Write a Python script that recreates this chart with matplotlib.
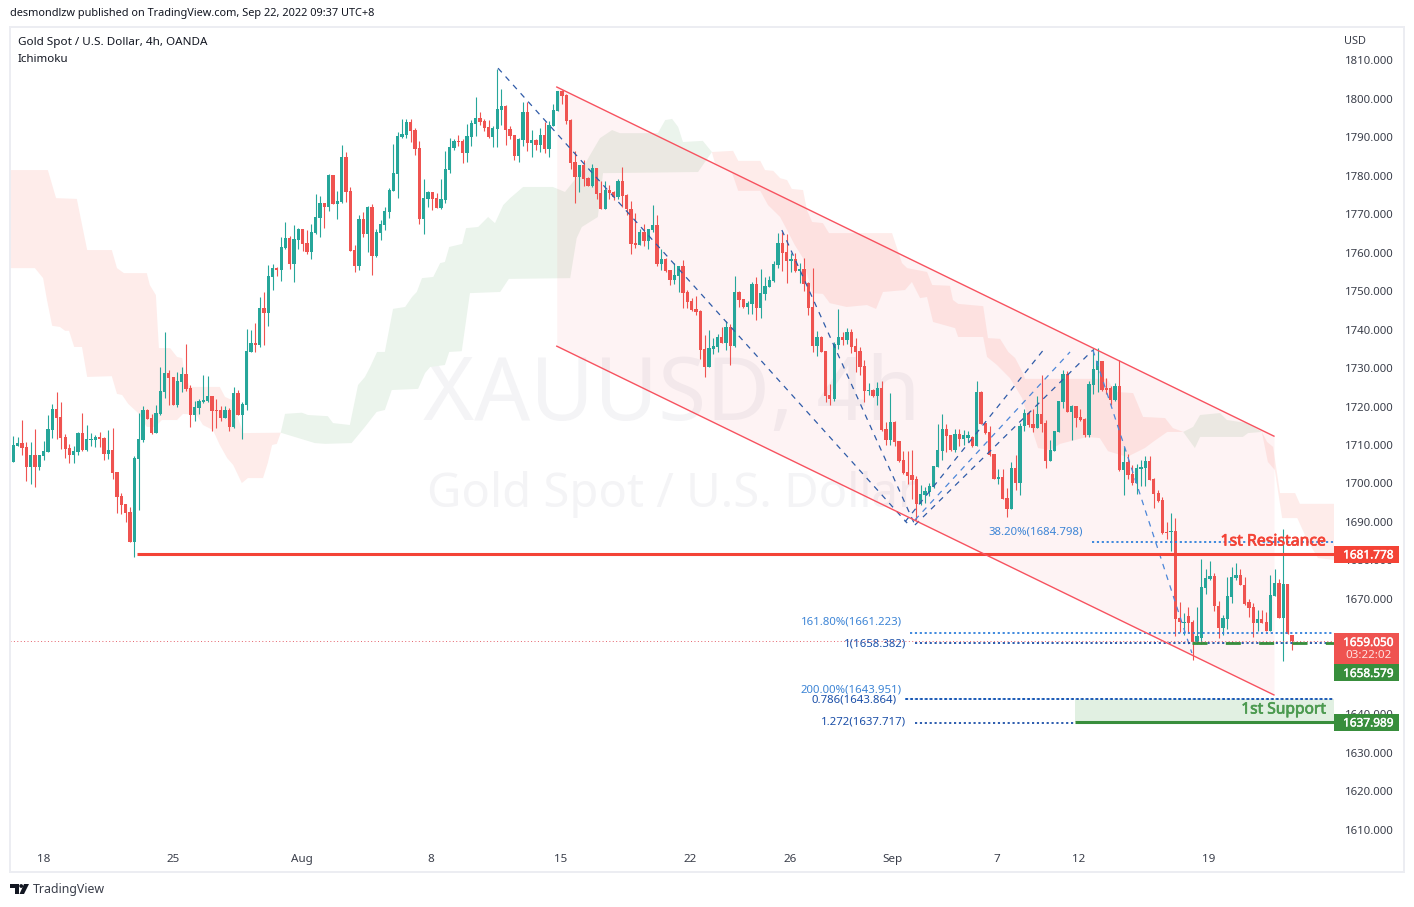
"""XAUUSD 4h candles with Ichimoku cloud, falling channel and fib levels."""
import matplotlib

matplotlib.use("Agg")
import matplotlib.patheffects as pe
import matplotlib.pyplot as plt
import numpy as np
from matplotlib.patches import Circle, Polygon, Rectangle

plt.rcParams["font.family"] = "Noto Sans"

opens = [
    1705.6, 1709.7, 1710.5, 1709.5, 1704.3, 1707.4, 1704.3, 1707.1, 1708.2, 1713.9,
    1719.4, 1717.3, 1712.1, 1709.2, 1707.4, 1708.2, 1713.1, 1708.7, 1711.3, 1711.3,
    1712.1, 1711.8, 1707.6, 1708.7, 1703.0, 1696.7, 1694.6, 1692.6, 1684.8, 1706.3,
    1711.3, 1719.1, 1717.0, 1713.1, 1718.0, 1723.8, 1728.7, 1727.7, 1720.4, 1726.4,
    1728.5, 1724.8, 1717.8, 1719.6, 1721.2, 1721.4, 1722.7, 1719.1, 1719.1, 1717.0,
    1719.1, 1714.7, 1723.5, 1717.8, 1720.4, 1734.2, 1736.5, 1736.0, 1745.6, 1744.3,
    1753.7, 1756.0, 1755.5, 1761.2, 1763.8, 1757.1, 1763.3, 1766.2, 1762.5, 1760.2,
    1765.1, 1769.0, 1772.9, 1771.9, 1780.2, 1772.7, 1773.2, 1784.9, 1776.0, 1760.7,
    1756.5, 1768.8, 1764.9, 1771.9, 1759.2, 1765.1, 1767.2, 1770.6, 1776.0, 1780.5,
    1790.1, 1790.6, 1794.0, 1791.9, 1787.2, 1768.8, 1774.0, 1775.8, 1774.2, 1771.6,
    1773.7, 1781.5, 1787.2, 1789.1, 1789.1, 1785.9, 1790.1, 1793.5, 1795.0, 1794.3,
    1792.7, 1790.1, 1792.2, 1797.1, 1798.2, 1792.2, 1790.6, 1785.2, 1789.3, 1796.6,
    1788.5, 1789.3, 1788.0, 1790.6, 1787.0, 1793.0, 1796.9, 1802.1, 1801.0, 1794.5,
    1783.6, 1779.7, 1782.8, 1779.5, 1777.4, 1782.0, 1775.5, 1771.4, 1776.3, 1775.8,
    1774.5, 1778.7, 1775.0, 1771.4, 1762.5, 1762.0, 1765.4, 1763.1, 1765.9, 1767.2,
    1757.1, 1758.4, 1755.5, 1752.9, 1754.0, 1756.6, 1749.8, 1747.4, 1745.4, 1744.8,
    1735.0, 1730.3, 1735.0, 1735.5, 1738.1, 1736.5, 1740.7, 1735.7, 1749.8, 1747.9,
    1745.9, 1746.7, 1751.9, 1745.6, 1749.3, 1751.1, 1752.6, 1756.8, 1762.5, 1760.2,
    1757.9, 1758.4, 1755.2, 1755.8, 1752.1, 1745.9, 1735.7, 1738.1, 1734.4, 1723.0,
    1722.0, 1736.0, 1738.1, 1737.3, 1739.4, 1735.7, 1734.4, 1730.5, 1724.0, 1724.3,
    1722.7, 1724.8, 1714.2, 1711.3, 1716.0, 1711.0, 1706.1, 1703.0, 1702.2, 1701.1,
    1694.7, 1697.0, 1697.8, 1699.1, 1704.3, 1708.4, 1714.2, 1712.6, 1708.7, 1712.9,
    1711.6, 1711.8, 1712.1, 1709.7, 1723.8, 1715.7, 1713.4, 1707.7, 1701.2, 1701.7,
    1696.2, 1693.3, 1704.0, 1700.1, 1714.9, 1718.3, 1715.5, 1714.4, 1718.1, 1715.7,
    1705.8, 1708.4, 1713.4, 1721.2, 1728.5, 1718.6, 1720.1, 1717.3, 1716.8, 1712.6,
    1725.6, 1729.5, 1731.8, 1724.8, 1724.8, 1721.7, 1725.3, 1703.5, 1705.6, 1702.5,
    1700.1, 1703.8, 1704.0, 1705.8, 1701.2, 1697.5, 1695.7, 1687.4, 1687.4, 1687.6,
    1665.0, 1663.7, 1665.5, 1664.0, 1658.8, 1659.8, 1672.8, 1675.1, 1675.9, 1668.1,
    1662.4, 1664.7, 1670.5, 1675.4, 1676.2, 1673.6, 1669.2, 1667.9, 1663.7, 1664.7,
    1664.0, 1661.6, 1670.7, 1674.1, 1665.0, 1673.8, 1660.6,
]
closes = [
    1710.0, 1710.5, 1709.2, 1704.3, 1707.4, 1704.3, 1707.4, 1708.4, 1714.1, 1719.4,
    1717.0, 1711.8, 1708.9, 1707.4, 1708.4, 1713.1, 1708.7, 1711.5, 1711.5, 1712.1,
    1711.5, 1707.6, 1708.7, 1702.7, 1696.5, 1694.4, 1692.3, 1684.8, 1706.6, 1711.5,
    1719.1, 1716.7, 1713.1, 1718.3, 1724.0, 1728.7, 1727.4, 1720.4, 1726.6, 1728.5,
    1724.6, 1717.8, 1719.9, 1721.4, 1721.7, 1722.7, 1718.8, 1718.8, 1717.0, 1719.1,
    1714.7, 1723.5, 1717.8, 1720.6, 1734.4, 1736.5, 1736.0, 1745.6, 1744.3, 1753.9,
    1756.0, 1755.5, 1761.5, 1763.8, 1757.1, 1763.6, 1766.2, 1762.3, 1760.2, 1765.4,
    1769.3, 1772.9, 1771.9, 1780.2, 1772.7, 1773.5, 1784.9, 1775.8, 1760.5, 1756.5,
    1768.8, 1764.9, 1771.9, 1759.2, 1765.4, 1767.5, 1770.9, 1776.3, 1780.7, 1790.4,
    1790.9, 1794.0, 1791.7, 1787.0, 1768.8, 1774.2, 1775.8, 1774.0, 1771.6, 1774.0,
    1781.8, 1787.5, 1789.1, 1788.8, 1785.9, 1790.4, 1793.7, 1795.0, 1794.0, 1792.4,
    1790.1, 1792.4, 1797.4, 1798.2, 1791.9, 1790.4, 1785.2, 1789.6, 1796.6, 1788.5,
    1789.3, 1788.0, 1790.6, 1787.0, 1793.2, 1797.1, 1802.1, 1800.8, 1794.3, 1783.3,
    1779.7, 1782.8, 1779.2, 1777.4, 1782.0, 1775.3, 1771.4, 1776.3, 1775.5, 1774.5,
    1778.7, 1774.8, 1771.4, 1762.3, 1762.0, 1765.4, 1763.1, 1766.2, 1767.2, 1757.1,
    1758.4, 1755.2, 1752.9, 1754.2, 1756.6, 1749.5, 1747.2, 1745.1, 1744.6, 1734.7,
    1730.3, 1735.2, 1735.7, 1738.1, 1736.5, 1740.7, 1735.7, 1749.8, 1747.7, 1745.9,
    1746.9, 1751.9, 1745.6, 1749.5, 1751.3, 1752.9, 1757.1, 1762.5, 1759.9, 1757.9,
    1758.4, 1755.2, 1755.8, 1751.9, 1745.6, 1735.7, 1738.1, 1734.2, 1722.7, 1722.0,
    1736.3, 1738.1, 1737.3, 1739.4, 1735.5, 1734.2, 1730.3, 1724.0, 1724.3, 1722.7,
    1724.8, 1713.9, 1711.3, 1716.0, 1710.8, 1705.8, 1702.7, 1701.9, 1700.9, 1694.7,
    1697.3, 1698.0, 1699.3, 1704.5, 1708.7, 1714.2, 1712.3, 1708.7, 1712.9, 1711.6,
    1712.6, 1712.6, 1709.7, 1723.8, 1715.5, 1713.1, 1707.4, 1701.2, 1701.7, 1696.0,
    1693.3, 1704.0, 1700.1, 1714.9, 1718.3, 1715.2, 1714.4, 1718.1, 1715.5, 1705.8,
    1708.7, 1713.6, 1721.4, 1728.5, 1718.6, 1720.1, 1717.0, 1716.5, 1712.6, 1725.9,
    1729.8, 1731.8, 1724.3, 1724.3, 1721.7, 1725.3, 1703.5, 1705.6, 1702.2, 1700.1,
    1704.0, 1704.3, 1705.8, 1700.9, 1697.3, 1695.4, 1687.1, 1687.1, 1687.6, 1664.7,
    1664.0, 1664.0, 1663.7, 1658.8, 1660.3, 1673.1, 1675.4, 1675.9, 1668.1, 1662.4,
    1665.0, 1670.7, 1675.7, 1676.2, 1673.6, 1668.6, 1667.6, 1663.7, 1664.7, 1663.7,
    1661.6, 1671.0, 1674.1, 1665.0, 1673.8, 1660.8, 1659.05,
]
highs = [
    1712.3, 1712.1, 1716.5, 1710.8, 1710.8, 1714.1, 1707.4, 1711.0, 1717.8, 1720.6,
    1723.8, 1721.2, 1712.8, 1710.2, 1709.7, 1713.4, 1718.3, 1715.2, 1713.1, 1712.6,
    1713.4, 1712.1, 1713.9, 1714.4, 1703.0, 1697.5, 1694.6, 1693.9, 1707.1, 1718.3,
    1720.1, 1719.4, 1718.0, 1720.4, 1730.3, 1739.4, 1729.5, 1727.7, 1729.0, 1730.3,
    1736.3, 1725.6, 1721.4, 1721.9, 1728.2, 1727.9, 1722.7, 1721.9, 1720.1, 1720.1,
    1719.6, 1725.1, 1724.3, 1721.2, 1740.2, 1739.9, 1741.7, 1748.5, 1749.8, 1756.8,
    1757.1, 1756.3, 1764.1, 1768.0, 1764.4, 1767.2, 1766.4, 1766.2, 1765.9, 1767.5,
    1775.3, 1774.8, 1772.9, 1780.5, 1780.2, 1776.0, 1788.0, 1786.2, 1777.1, 1762.0,
    1769.8, 1770.6, 1772.2, 1772.7, 1766.2, 1768.5, 1771.9, 1776.8, 1788.3, 1791.4,
    1794.8, 1794.8, 1794.8, 1792.4, 1789.1, 1779.2, 1776.0, 1775.8, 1775.5, 1779.2,
    1786.5, 1789.8, 1789.6, 1790.6, 1789.6, 1793.5, 1794.5, 1800.5, 1796.6, 1794.8,
    1794.5, 1793.0, 1807.8, 1802.6, 1798.4, 1793.0, 1790.6, 1789.8, 1799.2, 1799.2,
    1791.9, 1789.6, 1792.4, 1794.0, 1794.3, 1798.7, 1802.1, 1802.3, 1801.3, 1794.8,
    1786.5, 1782.8, 1784.1, 1779.7, 1783.1, 1782.0, 1778.7, 1778.7, 1777.6, 1776.1,
    1779.2, 1782.3, 1775.3, 1773.5, 1770.3, 1766.2, 1767.5, 1766.2, 1772.4, 1769.8,
    1761.0, 1758.6, 1755.5, 1757.3, 1756.6, 1758.1, 1750.3, 1748.2, 1748.7, 1745.1,
    1738.6, 1739.9, 1737.8, 1738.9, 1740.7, 1742.2, 1741.5, 1753.9, 1750.0, 1747.9,
    1747.4, 1752.4, 1753.7, 1755.8, 1753.7, 1753.9, 1757.9, 1765.1, 1765.4, 1764.9,
    1759.9, 1759.9, 1757.3, 1758.6, 1752.4, 1756.0, 1739.6, 1738.3, 1734.4, 1725.9,
    1736.8, 1745.4, 1739.4, 1740.4, 1740.2, 1737.8, 1735.5, 1732.1, 1726.1, 1724.6,
    1726.4, 1726.6, 1716.0, 1723.5, 1716.2, 1711.0, 1708.4, 1708.4, 1708.7, 1701.9,
    1699.6, 1699.1, 1700.1, 1704.5, 1715.5, 1718.1, 1715.5, 1712.6, 1714.2, 1714.2,
    1713.9, 1713.6, 1712.3, 1726.6, 1724.0, 1715.7, 1714.9, 1707.7, 1703.8, 1703.8,
    1698.8, 1705.6, 1707.4, 1715.7, 1719.4, 1718.8, 1719.4, 1722.7, 1728.2, 1716.5,
    1711.3, 1713.6, 1721.4, 1729.5, 1729.2, 1720.4, 1720.1, 1719.4, 1717.0, 1726.6,
    1735.2, 1735.2, 1731.8, 1727.4, 1725.3, 1726.1, 1732.1, 1709.5, 1707.7, 1704.8,
    1705.1, 1706.1, 1707.1, 1707.1, 1701.4, 1698.3, 1696.5, 1690.0, 1692.3, 1691.0,
    1669.2, 1666.3, 1667.9, 1664.5, 1667.9, 1680.3, 1677.7, 1679.8, 1676.7, 1669.4,
    1665.8, 1675.7, 1678.3, 1679.3, 1677.7, 1675.7, 1670.0, 1668.9, 1667.1, 1667.1,
    1666.6, 1676.2, 1677.7, 1675.1, 1688.2, 1673.8, 1660.6,
]
lows = [
    1705.6, 1709.7, 1707.4, 1700.6, 1699.8, 1699.1, 1703.5, 1706.1, 1708.2, 1711.8,
    1711.6, 1708.9, 1706.6, 1705.3, 1705.3, 1707.4, 1708.4, 1708.4, 1709.7, 1709.5,
    1709.5, 1706.1, 1706.3, 1701.1, 1692.3, 1692.0, 1690.0, 1684.8, 1680.9, 1693.1,
    1710.8, 1716.7, 1712.8, 1713.1, 1717.8, 1722.2, 1720.4, 1720.4, 1719.9, 1723.8,
    1724.0, 1714.7, 1716.2, 1718.0, 1720.9, 1721.2, 1713.6, 1714.4, 1716.2, 1717.0,
    1713.6, 1714.4, 1717.8, 1711.5, 1719.1, 1734.2, 1734.2, 1735.5, 1736.0, 1740.9,
    1750.3, 1753.9, 1752.6, 1761.0, 1755.8, 1752.4, 1761.0, 1760.5, 1759.7, 1758.4,
    1764.9, 1764.1, 1766.4, 1770.9, 1772.7, 1768.8, 1772.9, 1773.2, 1760.5, 1755.0,
    1755.5, 1764.1, 1760.2, 1754.2, 1758.9, 1763.3, 1765.9, 1769.0, 1776.0, 1774.2,
    1789.8, 1789.8, 1788.8, 1785.4, 1767.5, 1764.9, 1771.9, 1771.1, 1771.6, 1771.4,
    1772.9, 1780.7, 1786.7, 1787.8, 1783.3, 1783.6, 1787.8, 1790.4, 1793.2, 1791.7,
    1789.8, 1787.5, 1787.5, 1793.2, 1788.0, 1789.6, 1784.1, 1783.6, 1787.8, 1786.5,
    1784.9, 1786.7, 1786.2, 1786.0, 1784.9, 1793.0, 1796.9, 1798.7, 1793.5, 1781.8,
    1772.9, 1775.8, 1777.4, 1777.4, 1777.1, 1774.0, 1771.4, 1771.4, 1774.0, 1773.7,
    1774.0, 1771.9, 1769.8, 1759.7, 1761.2, 1762.0, 1761.8, 1761.0, 1765.4, 1756.6,
    1755.5, 1755.0, 1751.6, 1751.9, 1749.8, 1745.6, 1745.6, 1744.8, 1743.8, 1732.4,
    1727.7, 1730.3, 1733.7, 1734.2, 1736.5, 1734.7, 1730.8, 1735.5, 1745.9, 1745.6,
    1744.1, 1744.1, 1742.5, 1743.0, 1747.7, 1751.1, 1752.4, 1756.0, 1755.2, 1752.1,
    1755.0, 1755.0, 1752.1, 1750.0, 1743.8, 1734.2, 1733.1, 1734.2, 1721.2, 1720.4,
    1721.4, 1735.0, 1736.0, 1736.3, 1733.9, 1729.0, 1728.2, 1721.2, 1723.0, 1722.5,
    1720.4, 1713.6, 1710.0, 1710.0, 1709.7, 1705.6, 1702.4, 1699.8, 1696.0, 1690.5,
    1694.4, 1694.9, 1696.7, 1698.8, 1704.3, 1706.1, 1708.2, 1708.4, 1708.2, 1709.7,
    1710.0, 1710.8, 1709.5, 1709.7, 1715.5, 1712.9, 1707.1, 1701.2, 1699.8, 1696.0,
    1691.3, 1693.3, 1698.3, 1697.0, 1713.6, 1714.7, 1713.4, 1714.4, 1713.4, 1704.0,
    1705.8, 1708.4, 1713.4, 1719.6, 1718.6, 1711.3, 1714.7, 1716.2, 1712.1, 1712.1,
    1723.3, 1723.8, 1724.0, 1723.3, 1720.4, 1721.4, 1703.2, 1697.0, 1701.2, 1699.6,
    1697.3, 1699.3, 1699.3, 1700.9, 1693.6, 1695.2, 1686.8, 1685.5, 1682.4, 1660.3,
    1661.4, 1660.6, 1661.1, 1654.1, 1658.2, 1658.2, 1671.2, 1674.9, 1666.8, 1659.8,
    1660.6, 1662.1, 1668.9, 1674.9, 1673.6, 1668.4, 1665.3, 1660.1, 1661.6, 1663.7,
    1661.6, 1661.6, 1670.7, 1665.0, 1653.8, 1660.8, 1656.7,
]

# Ichimoku cloud edges, each as bar numbers and prices
red1_top_x = [-1, 8.0, 9.9, 14.7, 17.1, 22.8, 24.0, 25.6, 30.9, 31.6, 33.0, 33.7, 36.3, 37.9, 39.1, 39.7,
              40.9, 47.8, 49.0, 50.6, 53.2, 61.9]
red1_top = [1781.5, 1781.5, 1774.2, 1774.0, 1760.7, 1760.7, 1756.0, 1754.7, 1754.7, 1751.6, 1749.0, 1735.2,
            1735.2, 1732.9, 1732.6, 1728.2, 1725.1, 1725.1, 1722.5, 1721.7, 1713.1, 1713.2]
red1_bot_x = [-1, 5.0, 6.9, 7.8, 9.0, 10.8, 12.0, 12.9, 14.1, 15.9, 17.1, 22.8, 24.0, 25.2, 26.6, 28.9, 30.9,
              32.8, 34.4, 37.9, 39.3, 42.5, 43.9, 46.2, 47.8, 49.5, 50.9, 52.9, 54.3, 57.8, 58.9, 59.9, 61.0, 61.9]
red1_bot = [1756.0, 1756.0, 1753.4, 1747.7, 1741.0, 1740.7, 1739.7, 1739.7, 1735.5, 1735.5, 1727.7, 1727.9,
            1723.3, 1723.0, 1720.7, 1718.3, 1714.7, 1714.7, 1716.5, 1716.5, 1718.1, 1717.8, 1715.2, 1713.9,
            1710.0, 1706.6, 1704.8, 1700.1, 1701.4, 1701.4, 1705.3, 1710.0, 1710.3, 1713.2]

green1_top_x = [61.9, 62.9, 66.8, 68.2, 72.8, 74.0, 77.9, 79.8, 81.4, 82.6, 84.2, 86.0, 87.9, 90.7, 92.3, 93.4,
                94.6, 97.2, 98.8, 99.9, 100.9, 103.9, 104.8, 107.6, 109.9, 111.5, 113.4, 115.0, 118.0, 124.9,
                127.7, 131.2, 133.5, 135.8, 138.6, 140.4, 149.2, 150.9, 152.5, 153.9, 155.0, 159.6, 161.7]
green1_top = [1713.2, 1718.1, 1718.4, 1717.8, 1717.5, 1715.7, 1715.2, 1725.6, 1727.7, 1730.3, 1734.2, 1734.2,
              1745.4, 1745.9, 1748.5, 1749.8, 1753.4, 1753.7, 1757.3, 1757.6, 1761.5, 1762.3, 1766.4, 1766.7,
              1769.3, 1767.7, 1772.4, 1774.2, 1777.1, 1777.1, 1775.8, 1780.7, 1785.4, 1789.8, 1791.9, 1791.1,
              1791.1, 1794.5, 1794.8, 1792.7, 1788.8, 1789.1, 1786.2]
green1_bot_x = [61.9, 69.8, 72.2, 78.3, 81.4, 84.1, 86.0, 87.6, 93.7, 95.3, 96.5, 99.9, 100.9, 103.8, 105.7,
                112.7, 114.7, 128.9, 130.4, 131.6, 135.3, 136.5, 158.5, 161.7]
green1_bot = [1713.2, 1710.5, 1710.3, 1710.5, 1714.7, 1718.6, 1719.1, 1724.3, 1724.6, 1728.7, 1730.3, 1730.8,
              1734.2, 1734.4, 1749.5, 1749.8, 1753.2, 1753.4, 1763.8, 1766.7, 1769.3, 1780.7, 1781.0, 1786.2]

red2_top_x = [161.7, 166.6, 167.8, 172.9, 174.0, 175.9, 177.5, 179.1, 180.2, 182.8, 183.7, 184.9, 187.4, 188.8,
              203.4, 205.7, 206.9, 211.5, 212.7, 216.8, 217.5, 218.7, 224.5, 225.6, 228.4, 230.3, 231.9, 233.7,
              234.2, 253.2, 255.0, 259.2, 261.5, 266.6, 268.4, 270.8]
red2_top = [1786.2, 1786.5, 1783.9, 1783.9, 1781.5, 1781.3, 1779.4, 1778.9, 1776.6, 1776.3, 1771.1, 1768.0,
            1767.7, 1765.1, 1765.1, 1757.3, 1756.0, 1755.0, 1751.6, 1751.4, 1747.7, 1746.7, 1746.1, 1737.8,
            1737.6, 1734.2, 1732.6, 1728.7, 1727.2, 1727.2, 1723.8, 1723.5, 1717.3, 1717.0, 1714.4, 1713.4]
red2_bot_x = [161.7, 162.4, 166.4, 167.8, 172.9, 174.7, 177.5, 179.1, 180.9, 182.8, 184.9, 187.4, 189.0, 192.9,
              197.6, 199.7, 201.3, 206.4, 208.0, 209.9, 211.5, 212.9, 218.0, 218.7, 224.5, 225.4, 227.7, 230.7,
              233.5, 237.2, 240.0, 242.3, 248.5, 251.5, 253.4, 257.8, 261.9, 263.8, 267.1, 270.8]
red2_bot = [1786.2, 1783.3, 1780.7, 1776.1, 1776.1, 1772.4, 1769.3, 1765.9, 1762.0, 1758.6, 1749.5, 1749.3,
            1746.9, 1745.9, 1746.4, 1745.4, 1749.8, 1750.3, 1752.4, 1748.2, 1748.5, 1742.0, 1740.4, 1738.1,
            1738.1, 1732.9, 1730.8, 1727.4, 1722.2, 1709.2, 1708.7, 1710.3, 1712.1, 1711.8, 1708.4, 1706.9,
            1709.2, 1710.8, 1713.4, 1713.4]

green2_top_x = [270.8, 273.1, 274.7, 279.3, 280.9, 285.6, 289.0]
green2_top = [1713.4, 1714.7, 1717.8, 1718.3, 1716.5, 1715.7, 1713.4]
green2_bot_x = [270.8, 273.5, 274.7, 284.6, 285.8, 289.0]
green2_bot = [1713.4, 1709.2, 1712.1, 1712.1, 1713.1, 1713.4]

red3_top_x = [289.0, 290.2, 291.6, 293.2, 296.7, 297.8, 305.7]
red3_top = [1713.4, 1710.8, 1709.5, 1697.5, 1697.5, 1694.7, 1694.7]
red3_bot_x = [289.0, 290.4, 292.0, 293.7, 297.2, 299.5, 302.0, 305.7]
red3_bot = [1713.4, 1705.6, 1703.5, 1691.0, 1691.0, 1685.3, 1680.6, 1680.1]

# falling channel
channel_x = [125.8, 291.8]
channel_upper = [1803.1, 1712.3]
channel_lower = [1735.7, 1645.0]

# fib drawing legs: (bars, prices, colour)
fib_legs = [
    ([112.2, 206.9], [1808.0, 1689.7], "#2F5BA8"),
    ([177.9, 208.7], [1765.9, 1689.2], "#2F5BA8"),
    ([206.4, 239.0], [1690.0, 1735.5], "#2F5BA8"),
    ([208.7, 244.6], [1690.5, 1734.2], "#4C86D8"),
    ([208.7, 249.9], [1689.2, 1734.7], "#2F5BA8"),
    ([249.9, 272.8], [1734.7, 1655.9], "#4C86D8"),
]

resistance = 1681.778
support = 1637.989
support_top = 1643.864
last_price = 1659.05
target_price = 1658.579
fib_levels = [
    (1684.798, 249.7, "#2F80DC"),
    (1661.223, 207.6, "#2F80DC"),
    (1658.382, 208.7, "#1B4FA8"),
    (1643.951, 206.4, "#2F80DC"),
    (1643.864, 206.7, "#1B4FA8"),
]
fib_short_level = 1637.717

y_ticks = list(range(1610, 1820, 10))
x_tick_bars = [7, 37, 66.8, 96.7, 126.7, 156.6, 179.7, 203.6, 227.7, 246.7, 276.8]
x_tick_labels = ["18", "25", "Aug", "8", "15", "22", "26", "Sep", "7", "12", "19"]

W, H = 1414, 907
UP, DOWN = "#26A69A", "#EF5350"
CLOUD_RED, CLOUD_GREEN = "#FEECEA", "#EBF4EC"
TEXT = "#131722"
AXIS_TEXT = "#3A3E4A"


def cloud(ax, top_x, top, bot_x, bot, color):
    xs = list(top_x) + list(bot_x)[::-1]
    ys = list(top) + list(bot)[::-1]
    ax.fill(xs, ys, color=color, lw=0, zorder=1)


fig = plt.figure(figsize=(W / 100, H / 100), dpi=100, facecolor="white")
ax = fig.add_axes([10 / W, 1 - 872 / H, 1324 / W, 845 / H])
ax.set_xlim(-0.764, 305.7)
ax.set_ylim(1598.95, 1818.71)
for s in ax.spines.values():
    s.set_visible(False)

# watermark
ax.text(0.5, 1 - 370 / 845, "XAUUSD, 4h", transform=ax.transAxes, ha="center", va="center",
        fontsize=63, color="#F4F4F6", zorder=0)
ax.text(0.5, 1 - 468 / 845, "Gold Spot / U.S. Dollar", transform=ax.transAxes, ha="center", va="center",
        fontsize=34, color="#F4F4F6", zorder=0)

cloud(ax, red1_top_x, red1_top, red1_bot_x, red1_bot, CLOUD_RED)
cloud(ax, green1_top_x, green1_top, green1_bot_x, green1_bot, CLOUD_GREEN)
cloud(ax, red2_top_x, red2_top, red2_bot_x, red2_bot, CLOUD_RED)
cloud(ax, green2_top_x, green2_top, green2_bot_x, green2_bot, CLOUD_GREEN)
cloud(ax, red3_top_x, red3_top, red3_bot_x, red3_bot, CLOUD_RED)

# channel
ax.fill_between(channel_x, channel_lower, channel_upper, color="#F23645", alpha=0.06, lw=0, zorder=2)
ax.plot(channel_x, channel_upper, color="#F7525F", lw=1.0, zorder=5)
ax.plot(channel_x, channel_lower, color="#F7525F", lw=1.0, zorder=5)

# candles
o, c, hi, lo = map(np.array, (opens, closes, highs, lows))
bars = np.arange(len(o))
colors = np.where(c >= o, UP, DOWN)
ax.vlines(bars, lo, hi, colors=colors, lw=0.8, zorder=3)
ax.bar(bars, np.maximum(np.abs(c - o), 0.3), bottom=np.minimum(o, c), width=0.76, color=colors, lw=0, zorder=3)

# fib legs
for xs, ys, col in fib_legs:
    ax.plot(xs, ys, color=col, lw=0.9, ls=(0, (4.5, 4.5)), zorder=4)

# support / resistance
x_end = 305.7
ax.plot([28.6, x_end], [resistance, resistance], color="#F44336", lw=2.2, zorder=4, solid_capstyle="butt")
ax.fill_between([245.8, x_end], support, support_top, color="#E1F0E2", lw=0, zorder=2)
ax.plot([245.8, x_end], [support, support], color="#388E3C", lw=2.2, zorder=4, solid_capstyle="butt")
for level, start, col in fib_levels:
    ax.plot([start, x_end], [level, level], color=col, lw=1.3, ls=(0, (1.2, 1.5)), zorder=4)
ax.plot([208.7, 245.8], [fib_short_level, fib_short_level], color="#1B4FA8", lw=1.3, ls=(0, (1.2, 1.5)), zorder=4)
ax.plot([272.8, x_end], [target_price, target_price], color="#388E3C", lw=2.0, ls=(0, (5.4, 6.6)), zorder=4)
ax.axhline(last_price, color="#E5606A", lw=0.7, ls=(0, (1, 2.5)), zorder=4)

# axes ticks
ax.yaxis.tick_right()
ax.set_yticks(y_ticks)
ax.set_yticklabels([f"{v}.000" for v in y_ticks])
ax.set_xticks(x_tick_bars)
ax.set_xticklabels(x_tick_labels)
ax.tick_params(axis="y", length=0, pad=8, labelsize=8.2, labelcolor=AXIS_TEXT)
ax.tick_params(axis="x", length=0, direction="in", pad=-13, labelsize=8.4, labelcolor=AXIS_TEXT)

# overlay in pixels for frame, tags and titles
deco = fig.add_axes([0, 0, 1, 1], zorder=20)
deco.set_xlim(0, W)
deco.set_ylim(H, 0)
deco.axis("off")
deco.patch.set_alpha(0)

deco.add_patch(Rectangle((10, 27), 1394, 845, fill=False, ec="#ECEDF2", lw=1.4))


def tag(y0, y1, color):
    deco.add_patch(Rectangle((1334, y0), 65, y1 - y0, color=color, lw=0))


def heavy(text, color, width):
    text.set_path_effects([pe.withStroke(linewidth=width, foreground=color)])


for y, label in [(555, "1681.778"), (642.5, "1659.050"), (673.5, "1658.579"), (723, "1637.989")]:
    if label == "1681.778":
        tag(546, 563, "#F44336")
    elif label == "1659.050":
        tag(633, 664, "#EF5350")
    elif label == "1658.579":
        tag(664, 681, "#388E3C")
    else:
        tag(714, 731, "#388E3C")
    heavy(deco.text(1368.5, y, label, color="white", ha="center", va="center", fontsize=8.5), "white", 0.3)
deco.text(1368.5, 656, "03:22:02", color="#FFE3E2", ha="center", va="center", fontsize=8.3)

heavy(deco.text(1326, 541.5, "1st Resistance", color="#F44336", ha="right", va="center", fontsize=11.4), "#F44336", 0.5)
heavy(deco.text(1326, 709.5, "1st Support", color="#4C9A50", ha="right", va="center", fontsize=11.2), "#4C9A50", 0.5)

deco.text(1083, 532.5, "38.20%(1684.798)", color="#3D85D6", ha="right", va="center", fontsize=8.2)
deco.text(902, 622.5, "161.80%(1661.223)", color="#3D85D6", ha="right", va="center", fontsize=8.2)
deco.text(906, 644.5, "1(1658.382)", color="#1B4FA8", ha="right", va="center", fontsize=8.2)
deco.text(902, 689.5, "200.00%(1643.951)", color="#3D85D6", ha="right", va="center", fontsize=8.2)
deco.text(897, 700.5, "0.786(1643.864)", color="#1B4FA8", ha="right", va="center", fontsize=8.2)
deco.text(906, 722.5, "1.272(1637.717)", color="#1B4FA8", ha="right", va="center", fontsize=8.2)

deco.text(10, 13.5, "desmondlzw published on TradingView.com, Sep 22, 2022 09:37 UTC+8", color=TEXT,
          va="center", fontsize=7.9)
deco.text(18, 42, "Gold Spot / U.S. Dollar, 4h, OANDA", color=TEXT, va="center", fontsize=8.4)
deco.text(18, 59, "Ichimoku", color=TEXT, va="center", fontsize=8.3)
deco.text(1344, 41, "USD", color=AXIS_TEXT, va="center", fontsize=7.9)
deco.text(33, 889, "TradingView", color="#3A3E4A", va="center", fontsize=8.9)

# logo
deco.add_patch(Polygon([(10, 884), (19, 884), (19, 894), (14.5, 894), (14.5, 888), (10, 888)], color=TEXT, lw=0))
deco.add_patch(Circle((21.2, 886), 1.9, color=TEXT, lw=0))
deco.add_patch(Polygon([(24, 884), (29, 884), (24, 894), (19.5, 894)], color=TEXT, lw=0))

fig.savefig("out.png", dpi=100)
plt.close(fig)
